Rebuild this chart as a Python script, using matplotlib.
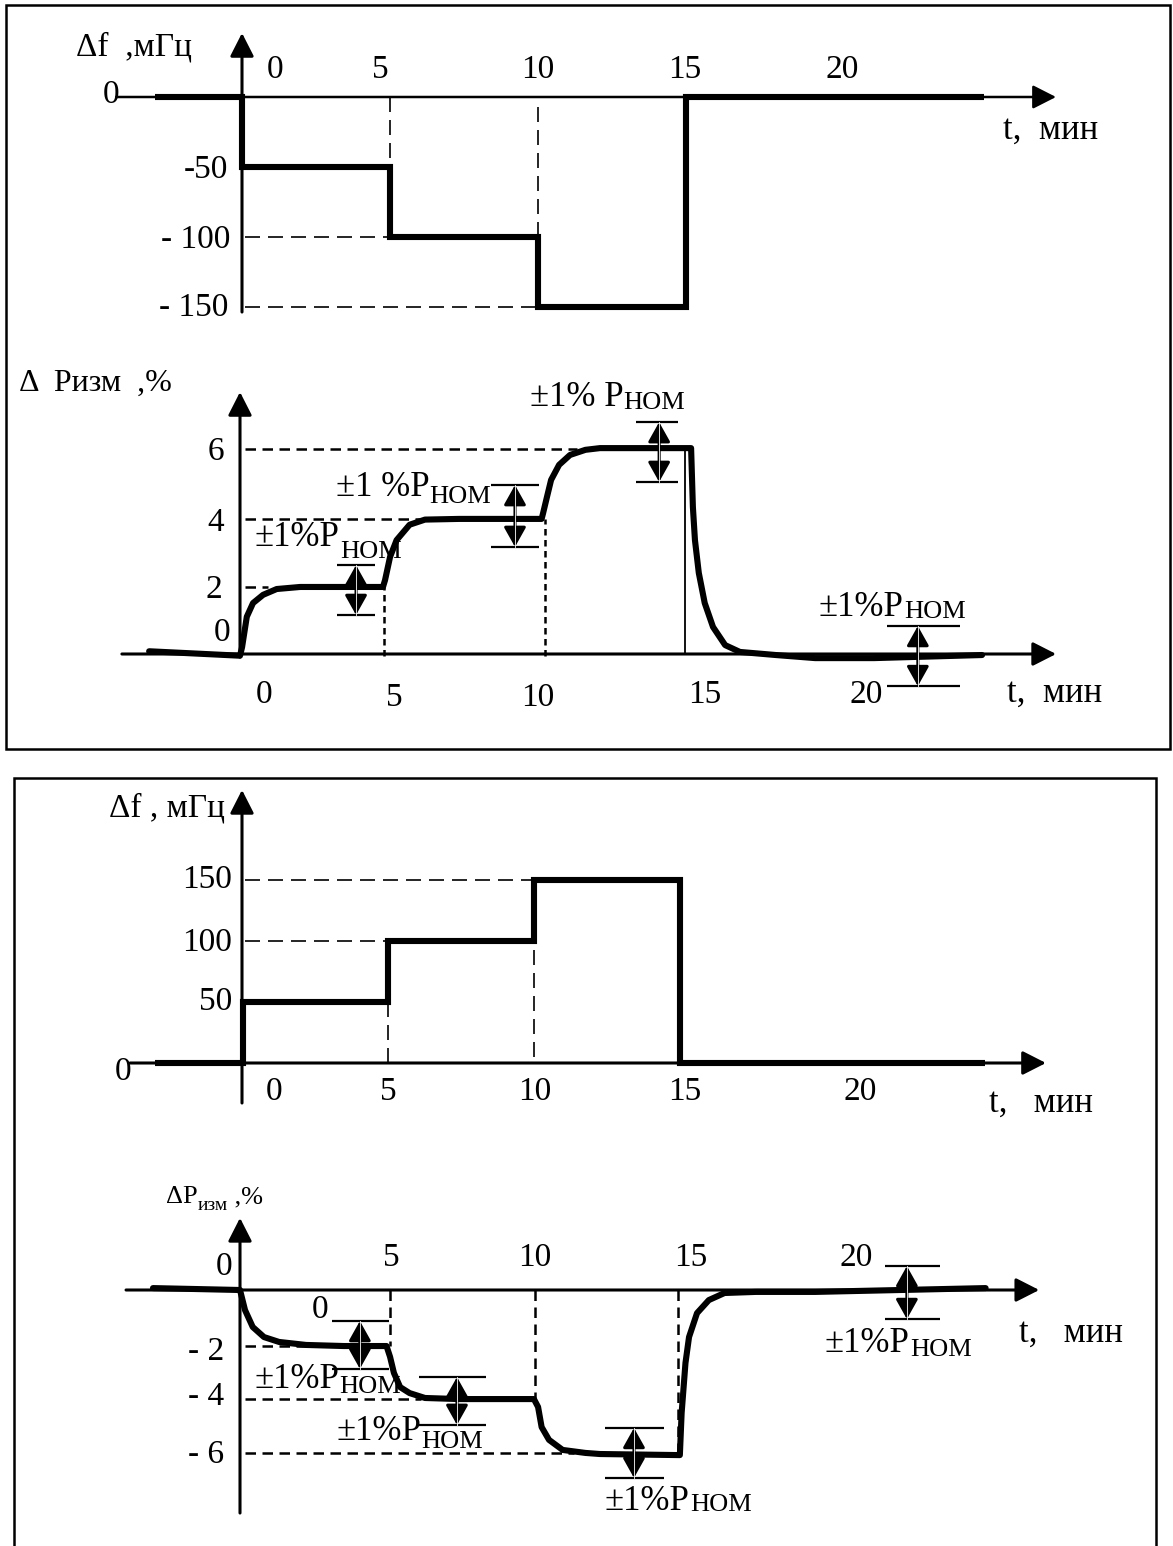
import numpy as np
import matplotlib
matplotlib.use("Agg")
import matplotlib.pyplot as plt
from matplotlib.patches import Rectangle

plt.rcParams['font.family'] = ['Liberation Serif', 'DejaVu Serif']

W, H = 1173, 1546

# ---- data (t in minutes) ----
# panel 1: frequency deviation, steps down
f1_steps_t = [0, 5, 10, 15]
f1_levels = [0, -50, -100, -150, 0]
f1_span = [-2.95, 25.07]

# panel 2: measured power response, rising steps
p2_t = [-3.07, 0.0, 0.07, 0.23, 0.44, 0.78, 1.24, 2.03, 4.83,
        4.9, 5.07, 5.29, 5.73, 6.25, 7.4, 10.19,
        10.24, 10.37, 10.51, 10.78, 11.15, 11.67, 12.16, 15.24,
        15.3, 15.37, 15.5, 15.7, 15.98, 16.39, 16.89, 18.1, 19.43, 21.42, 25.07]
p2_v = [0.08, -0.05, 0.2, 1.09, 1.49, 1.73, 1.9, 1.96, 1.96,
        2.16, 2.84, 3.33, 3.78, 3.93, 3.95, 3.95,
        4.12, 4.59, 5.09, 5.53, 5.82, 5.97, 6.02, 6.02,
        4.3, 3.33, 2.37, 1.49, 0.79, 0.26, 0.06, -0.03, -0.12, -0.12, -0.03]

# panel 3: frequency deviation, steps up
f3_steps_t = [0.05, 4.93, 9.86, 14.8]
f3_levels = [0, 50, 100, 150, 0]
f3_span = [-2.94, 25.1]

# panel 4: measured power response, falling steps
p4_t = [-2.94, 0.0, 0.17, 0.43, 0.81, 1.32, 2.23, 3.51, 4.95,
        5.07, 5.2, 5.41, 5.73, 6.25, 7.4, 9.93,
        10.07, 10.19, 10.44, 10.9, 11.67, 12.16, 14.86,
        14.92, 15.05, 15.17, 15.44, 15.84, 16.37, 17.43, 19.43, 25.19]
p4_v = [0.07, 0.0, -0.74, -1.36, -1.73, -1.91, -2.02, -2.06, -2.06,
        -2.46, -3.05, -3.57, -3.79, -3.97, -4.01, -4.01,
        -4.3, -5.04, -5.51, -5.88, -5.99, -6.03, -6.07,
        -4.52, -2.68, -1.73, -0.85, -0.37, -0.11, -0.07, -0.07, 0.07]

# tolerance bands (+-1% P_nom)
p2_tol_lo = [1.14, 3.13, 5.03, -0.94]
p2_tol_hi = [2.6, 4.94, 6.78, 0.82]
p2_tol_t0 = [3.28, 8.48, 13.38, 21.86]
p2_tol_t1 = [4.56, 10.1, 14.8, 24.32]
p2_tol_tc = [3.92, 9.29, 14.16, 22.9]

p4_tol_lo = [-2.9, -4.96, -6.91, -1.07]
p4_tol_hi = [-1.14, -3.2, -5.07, 0.88]
p4_tol_t0 = [3.1, 6.05, 12.33, 21.79]
p4_tol_t1 = [5.03, 8.31, 14.32, 23.65]
p4_tol_tc = [4.05, 7.33, 13.31, 22.53]

fig = plt.figure(figsize=(W / 100, H / 100), dpi=100)


def panel(x0, y0, sx, sy):
    # axes over the whole figure, origin of the diagram at pixel (x0, y0)
    ax = fig.add_axes([0, 0, 1, 1])
    ax.set_xlim(-x0 / sx, (W - x0) / sx)
    ax.set_ylim((y0 - H) / sy, y0 / sy)
    ax.axis('off')
    ax.patch.set_alpha(0)
    return ax


def arrow_axis(ax, x0, y0, x1, y1, lw=2.2):
    ax.annotate('', xy=(x1, y1), xytext=(x0, y0), annotation_clip=False,
                arrowprops=dict(arrowstyle='-|>,head_length=0.55,head_width=0.28',
                                lw=lw, color='k', shrinkA=0, shrinkB=0, mutation_scale=26))


def tolerance(ax, lo, hi, t0, t1, tc):
    for a, b, c, d, e in zip(lo, hi, t0, t1, tc):
        ax.hlines([a, b], c, d, color='k', lw=1.6)
        ax.annotate('', xy=(e, b), xytext=(e, a), annotation_clip=False,
                    arrowprops=dict(arrowstyle='<|-|>,head_length=0.5,head_width=0.28',
                                    lw=2.2, color='k', shrinkA=0, shrinkB=0, mutation_scale=24))
        ax.plot([e, e], [a, b], color='w', lw=0.6, zorder=5)


def txt(s, x, y, size=24, ha='center', va='center'):
    return fig.text(x / W, 1 - y / H, s, fontsize=size, ha=ha, va=va)


def label_pnom(ax, main, x, y, ysub, size=25, ssize=19):
    t = fig.text(x / W, 1 - y / H, main, fontsize=size, ha='left', va='center')
    ax.annotate('НОМ', xy=(1.0, H - ysub), xycoords=(t, 'figure pixels'),
                fontsize=ssize, ha='left', va='center', annotation_clip=False)


def steps(ts, levels, span):
    tt = [span[0]] + list(np.repeat(ts, 2)) + [span[1]]
    vv = list(np.repeat(levels, 2))
    return tt, vv


dash_long = (0, (9, 4.8))
dash_mid = (0, (4.2, 2.6))
dash_short = (0, (2.6, 1.8))

# frames
fig.patches.append(Rectangle((6 / W, 1 - 749 / H), 1164 / W, 744 / H, transform=fig.transFigure,
                             fill=False, lw=1.8, ec='k'))
fig.patches.append(Rectangle((14 / W, -0.05), 1142 / W, 1 - 778 / H + 0.05, transform=fig.transFigure,
                             fill=False, lw=1.8, ec='k'))

# ---------------- panel 1 ----------------
ax1 = panel(242, 97, 29.6, 1.4)
arrow_axis(ax1, -4.25, 0, 27.5, 0, lw=1.8)
arrow_axis(ax1, 0, -153.6, 0, 45.7)
ax1.hlines([-100, -150], 0.1, [5, 10], color='k', lw=1.2, linestyle=dash_long)
ax1.vlines([5, 10], [0, -7], [-50, -100], color='k', lw=1.2, linestyle=dash_long)
tt, vv = steps(f1_steps_t, f1_levels, f1_span)
ax1.plot(tt, vv, color='k', lw=4.4, solid_joinstyle='miter', solid_capstyle='butt')

txt('Δf  ,мГц', 76, 47, size=24, ha='left')
for s, x, y in [('0', 119, 95), ('-50', 228, 170), ('- 100', 230, 240), ('- 150', 228, 308)]:
    txt(s, x, y, ha='right')
for s, x in [('0', 275), ('5', 380), ('10', 538), ('15', 685), ('20', 842)]:
    txt(s, x, 70)
txt('t,  мин', 1003, 130, size=25, ha='left')

# ---------------- panel 2 ----------------
ax2 = panel(240, 654, 29.6, 34.2)
arrow_axis(ax2, -3.99, 0, 27.57, 0)
arrow_axis(ax2, 0, -0.09, 0, 7.66)
ax2.hlines([1.96, 3.95, 6.0], 0.17, [0.95, 6.1, 11.4], color='k', lw=1.8, linestyle=dash_mid)
ax2.vlines([4.86, 10.3], -0.05, [1.96, 3.95], color='k', lw=1.8, linestyle=dash_short)
ax2.vlines([15.03], 0, 6.02, color='k', lw=1.3)
ax2.plot(p2_t, p2_v, color='k', lw=4.4, solid_joinstyle='round', solid_capstyle='round')
tolerance(ax2, p2_tol_lo, p2_tol_hi, p2_tol_t0, p2_tol_t1, p2_tol_tc)

txt('Δ  Ризм  ,%', 19, 383, size=23, ha='left')
for s, x, y in [('6', 216, 452), ('4', 216, 523), ('2', 214, 590), ('0', 222, 633)]:
    txt(s, x, y)
for s, x, y in [('0', 264, 695), ('5', 394, 698), ('10', 538, 698), ('15', 705, 695), ('20', 866, 695)]:
    txt(s, x, y)
txt('t,  мин', 1007, 693, size=25, ha='left')
label_pnom(ax2, '±1%P', 255, 537, 552)
label_pnom(ax2, '±1 %P', 336, 488, 497)
label_pnom(ax2, '±1% P', 530, 398, 403)
label_pnom(ax2, '±1%P', 819, 608, 612)

# ---------------- panel 3 ----------------
ax3 = panel(242, 1063, 29.6, 1.22)
arrow_axis(ax3, -3.78, 0, 27.16, 0)
arrow_axis(ax3, 0, -32.8, 0, 223.8)
ax3.hlines([150, 100], 0.1, [9.8, 4.93], color='k', lw=1.2, linestyle=dash_long)
ax3.vlines([4.93, 9.86], [0, 4.9], [50, 100], color='k', lw=1.2, linestyle=dash_long)
tt, vv = steps(f3_steps_t, f3_levels, f3_span)
ax3.plot(tt, vv, color='k', lw=4.4, solid_joinstyle='miter', solid_capstyle='butt')

txt('Δf , мГц', 109, 808, size=24, ha='left')
for s, y in [('150', 880), ('100', 943), ('50', 1002)]:
    txt(s, 232, y, ha='right')
txt('0', 123, 1072)
for s, x in [('0', 274), ('5', 388), ('10', 535), ('15', 685), ('20', 860)]:
    txt(s, x, 1092)
txt('t,   мин', 989, 1103, size=25, ha='left')

# ---------------- panel 4 ----------------
ax4 = panel(240, 1290, 29.6, 27.2)
arrow_axis(ax4, -3.85, 0, 27.0, 0)
arrow_axis(ax4, 0, -8.2, 0, 2.65)
ax4.hlines([-2.06, -4.0, -6.0], 0.17, [4.83, 6.1, 11.3], color='k', lw=1.8, linestyle=dash_mid)
ax4.vlines([5.07, 9.98, 14.8], 0, [-2.06, -4.0, -6.0], color='k', lw=1.8, linestyle=dash_mid)
ax4.plot(p4_t, p4_v, color='k', lw=4.4, solid_joinstyle='round', solid_capstyle='round')
tolerance(ax4, p4_tol_lo, p4_tol_hi, p4_tol_t0, p4_tol_t1, p4_tol_tc)

t = txt('ΔP', 166, 1197, size=19, ha='left')
t2 = ax4.annotate('изм', xy=(1.0, H - 1206), xycoords=(t, 'figure pixels'),
                  fontsize=14, ha='left', va='center', annotation_clip=False)
ax4.annotate(' ,%', xy=(1.0, H - 1197), xycoords=(t2, 'figure pixels'),
             fontsize=19, ha='left', va='center', annotation_clip=False)
txt('0', 224, 1267)
for s, y in [('- 2', 1352), ('- 4', 1397), ('- 6', 1455)]:
    txt(s, 224, y, ha='right')
for s, x in [('5', 391), ('10', 535), ('15', 691), ('20', 856)]:
    txt(s, x, 1258)
txt('0', 320, 1310)
txt('t,   мин', 1019, 1333, size=25, ha='left')
label_pnom(ax4, '±1%P', 254, 1380, 1387)
label_pnom(ax4, '±1%P', 336, 1432, 1442)
label_pnom(ax4, '±1%P', 605, 1502, 1505)
label_pnom(ax4, '±1%P', 825, 1343, 1350)

fig.savefig('out.png', dpi=100)
